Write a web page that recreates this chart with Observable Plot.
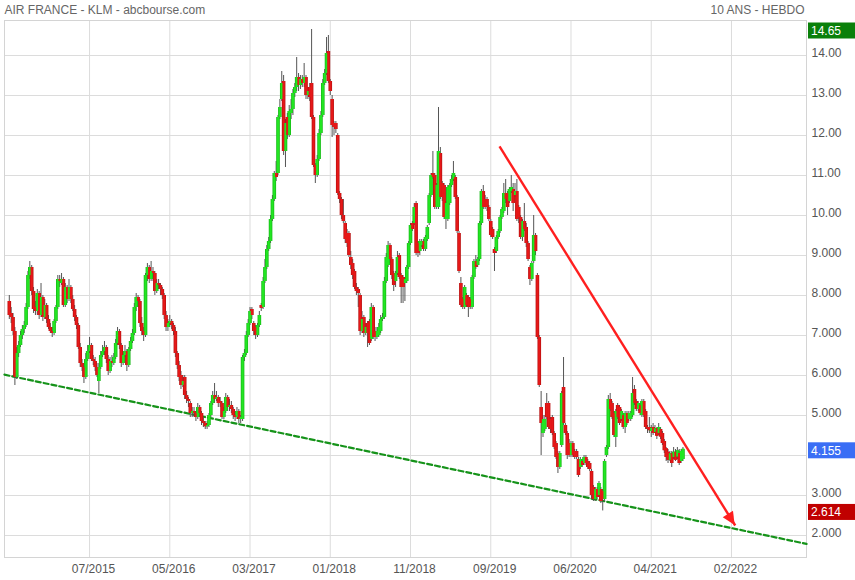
<!DOCTYPE html>
<html>
<head>
<meta charset="utf-8">
<script src="https://cdn.jsdelivr.net/npm/d3@7"></script>
<script src="https://cdn.jsdelivr.net/npm/@observablehq/plot@0.6"></script>
<style>
  html, body { margin: 0; padding: 0; background: #fff; }
  #chart svg { display: block; font-family: "Liberation Sans", Arial, sans-serif; }
</style>
</head>
<body>
<div id="chart"></div>
<script>
// Weekly candles (index 0 = first week shown)
const open = [
7.85,7.55,7.45,7.1,5.95,6.55,6.75,7.0,7.15,7.25,
7.7,8.5,8.7,8.1,7.7,7.6,8.05,7.5,7.95,7.45,
7.75,7.4,7.2,7.1,7.05,7.35,7.7,8.4,8.3,8.4,
7.75,8.2,7.9,8.2,7.9,7.65,7.45,7.25,6.7,6.3,
6.2,5.95,6.4,6.6,6.75,6.4,6.35,6.2,5.85,6.2,
6.5,6.6,6.7,6.4,6.1,6.35,6.3,6.45,6.8,7.1,
6.75,6.3,6.5,6.6,6.25,6.65,6.85,7.05,7.7,7.95,
7.85,7.3,7.1,7.0,8.5,8.7,8.4,8.6,8.55,8.1,
8.3,8.25,8.15,8.0,7.5,7.2,7.3,7.35,7.25,7.1,
6.55,6.25,6.0,5.75,5.95,5.5,5.4,5.3,5.05,5.1,
5.05,4.95,5.2,5.05,4.85,4.8,4.72,4.75,5.0,5.3,
5.5,5.4,5.45,5.35,5.3,4.95,5.1,5.45,5.2,5.25,
5.15,5.0,4.95,5.1,4.9,4.9,6.45,6.55,7.0,7.3,
7.65,7.3,7.2,7.0,7.25,7.75,7.7,8.35,8.7,9.15,
9.35,9.9,10.4,11.05,11.05,12.45,12.9,13.35,11.6,12.45,
12.0,12.55,12.65,13.05,13.2,13.45,13.25,13.4,13.3,13.45,
13.0,13.2,13.3,12.45,11.25,11.0,11.4,12.05,12.5,13.3,
13.55,14.1,13.35,12.9,12.3,12.3,12.0,10.55,10.4,10.0,
9.8,9.55,9.55,8.95,8.8,8.6,8.2,8.15,8.0,7.1,
7.45,7.05,7.3,7.35,6.9,7.7,7.1,6.95,7.0,7.1,
7.4,7.45,8.35,8.75,9.25,8.9,8.55,8.35,8.55,9.0,
8.5,8.45,8.3,8.35,8.7,9.3,9.8,9.8,10.3,9.3,
9.1,9.25,9.35,9.15,9.4,9.8,10.5,11.05,11.0,10.2,
10.2,11.55,10.8,10.75,9.9,9.9,10.3,10.75,10.9,10.95,
10.45,9.55,8.3,7.9,7.7,8.0,7.95,7.9,7.7,8.45,
8.85,8.75,8.9,9.8,10.6,10.4,10.4,10.2,9.85,9.65,
9.15,9.1,9.45,9.6,9.95,10.1,10.55,10.55,10.35,10.6,
10.65,10.5,10.6,10.2,9.95,9.45,9.85,9.7,9.3,8.7,
8.4,8.85,9.5,8.5,6.95,5.2,4.55,4.65,5.3,5.3,
4.9,4.95,4.55,4.3,4.05,3.7,4.25,5.7,4.75,4.55,
4.3,4.0,4.3,4.1,4.1,3.9,3.7,3.85,3.8,3.95,
3.85,3.8,3.6,3.2,2.9,3.15,3.0,3.15,3.1,2.9,
4.0,4.2,5.4,5.3,5.05,4.45,5.25,5.2,4.9,5.0,
4.7,5.05,4.9,4.9,5.0,5.65,5.35,5.15,5.25,5.0,
5.35,5.1,4.7,4.7,4.6,4.7,4.58,4.67,4.55,4.65,
4.55,4.35,4.17,4.08,3.88,4.04,3.95,4.08,3.96,4.05,3.85,3.9
];
const high = [
8.0,7.7,7.55,7.2,6.7,6.85,7.1,7.25,7.35,7.8,
8.6,8.85,8.75,8.2,7.85,8.15,8.1,8.3,8.0,7.9,
7.8,7.5,7.3,7.2,7.4,7.75,8.5,8.5,8.55,8.45,
8.3,8.25,8.4,8.25,8.0,7.75,7.5,7.3,6.8,6.4,
6.3,6.55,6.75,6.95,6.8,6.5,6.45,6.3,6.3,6.6,
6.75,6.85,6.75,6.5,6.45,6.5,6.55,6.9,7.2,7.15,
6.8,6.6,6.75,6.65,6.7,6.95,7.15,7.8,8.05,8.0,
7.9,7.45,7.2,8.55,8.8,8.75,8.85,8.7,8.6,8.4,
8.4,8.3,8.2,8.05,7.6,7.4,7.5,7.4,7.3,7.2,
6.6,6.35,6.1,6.0,6.0,5.6,5.45,5.35,5.2,5.2,
5.1,5.3,5.25,5.1,4.95,4.85,4.85,5.05,5.35,5.6,
5.8,5.6,5.5,5.45,5.35,5.2,5.55,5.5,5.4,5.35,
5.2,5.1,5.2,5.15,5.0,6.5,6.65,7.1,7.4,7.7,
7.7,7.35,7.25,7.3,7.6,7.8,8.45,8.9,9.25,9.45,
10.0,10.5,11.1,11.35,12.5,12.9,13.6,13.5,12.4,12.55,
12.75,12.9,13.15,13.3,13.95,13.55,13.5,13.5,13.8,13.5,
13.2,13.3,14.65,12.5,11.3,11.5,12.15,12.6,13.4,13.65,
14.45,14.5,13.4,13.0,12.35,12.35,12.05,10.6,10.45,10.4,
9.85,9.65,9.6,9.1,8.9,8.65,8.3,8.2,8.05,7.6,
7.5,7.3,7.35,7.4,7.8,7.75,7.2,7.2,7.3,7.5,
7.55,8.45,9.05,9.35,9.3,8.95,8.6,8.6,9.1,9.05,
8.55,8.5,8.45,8.75,9.35,9.8,9.85,10.3,10.35,9.35,
9.4,9.4,9.4,9.5,9.75,10.55,11.05,11.6,11.05,10.8,
12.7,11.7,10.85,10.8,10.35,10.75,10.8,11.0,11.35,11.0,
10.5,9.6,8.45,7.95,8.25,8.05,8.0,7.95,8.5,8.9,
9.0,8.95,9.85,10.65,10.75,10.5,10.45,10.25,9.9,9.7,
9.2,9.5,9.65,10.0,10.2,10.8,10.9,10.6,10.7,11.0,
10.8,10.8,10.9,10.25,10.0,9.9,10.3,9.8,9.35,8.75,
8.85,10.0,9.55,8.55,7.0,5.6,5.0,5.0,5.55,5.35,
4.95,5.0,4.6,4.35,4.1,4.1,5.6,6.45,4.8,4.6,
4.4,4.35,4.35,4.15,4.15,3.95,3.95,3.9,4.0,4.0,
3.9,3.85,3.65,3.25,3.2,3.2,3.35,3.2,3.15,3.9,
4.25,5.5,5.55,5.35,5.1,5.15,5.3,5.25,5.15,5.05,
5.1,5.1,5.1,5.1,5.95,5.75,5.4,5.35,5.3,5.4,
5.4,5.15,4.75,4.95,4.75,4.8,4.75,4.7,4.8,4.7,
4.6,4.4,4.2,4.15,4.1,4.1,4.2,4.15,4.2,4.15,4.15,4.2
];
const low = [
7.4,7.3,7.0,5.75,5.9,6.45,6.7,6.9,7.05,7.2,
7.65,8.4,8.0,7.55,7.5,7.5,7.4,7.45,7.35,7.4,
7.3,7.15,7.05,6.95,7.0,7.3,7.65,8.2,8.25,7.7,
7.7,7.8,7.85,7.8,7.6,7.35,7.15,6.65,6.2,6.1,
5.8,5.9,6.35,6.55,6.35,6.25,6.1,5.95,5.55,6.15,
6.45,6.5,6.3,6.0,6.05,6.2,6.25,6.4,6.75,6.65,
6.2,6.25,6.45,6.1,6.2,6.6,6.8,7.0,7.6,7.7,
7.2,7.0,6.85,6.95,8.35,8.3,8.35,8.35,8.0,8.05,
8.15,8.0,7.9,7.4,7.1,7.1,7.2,7.15,7.0,6.45,
6.15,5.85,5.65,5.7,5.4,5.3,5.2,4.95,4.95,4.95,
4.85,4.9,4.95,4.75,4.7,4.65,4.65,4.7,4.95,5.25,
5.3,5.35,5.2,5.2,4.9,4.9,5.05,5.1,5.1,5.05,
4.9,4.85,4.9,4.8,4.8,4.85,6.35,6.5,6.95,7.25,
7.4,7.0,6.9,6.95,7.2,7.6,7.65,8.3,8.65,9.1,
9.3,9.85,10.35,10.85,11.0,12.4,12.85,11.5,11.2,11.9,
11.95,12.4,12.5,12.95,13.1,13.1,13.15,13.2,13.2,12.9,
12.9,12.85,12.4,11.2,10.8,10.95,11.35,12.0,12.45,13.25,
13.5,13.3,13.0,11.95,12.0,12.05,10.5,10.3,9.9,9.8,
9.3,9.2,8.95,8.65,8.4,8.15,8.0,7.7,7.0,7.05,
6.95,7.0,6.7,6.75,6.85,6.9,6.85,6.9,6.95,7.05,
7.35,7.4,8.3,8.7,8.8,8.4,8.1,8.2,8.5,8.4,
7.8,7.8,7.85,8.3,8.65,9.25,9.6,9.75,9.0,8.95,
9.0,9.2,9.1,9.1,9.35,9.75,10.45,10.9,10.15,10.15,
10.15,10.4,10.35,9.9,9.65,9.85,10.25,10.7,10.85,10.4,
9.55,8.55,7.7,7.65,7.65,7.7,7.45,7.65,7.65,8.4,
8.65,8.7,8.85,9.75,10.15,10.15,10.1,9.85,9.45,9.4,
8.6,9.05,9.4,9.55,9.9,10.05,10.3,10.0,10.3,10.55,
10.1,10.45,9.85,9.8,9.4,9.35,9.6,9.2,8.85,8.25,
8.35,8.8,9.0,6.9,5.7,4.0,4.45,4.6,4.9,4.65,
4.55,4.5,4.15,3.9,3.55,3.65,4.2,4.75,4.5,3.9,
3.95,3.95,3.95,3.9,3.9,3.45,3.65,3.7,3.75,3.75,
3.65,3.6,2.9,2.85,2.85,2.9,2.95,2.8,2.614,2.85,
3.95,4.15,5.1,4.9,4.45,4.2,4.9,4.75,4.85,4.65,
4.55,4.75,4.85,4.85,4.95,5.25,5.1,5.1,5.0,4.95,
4.95,4.65,4.55,4.55,4.45,4.5,4.55,4.4,4.5,4.4,
4.25,4.05,3.85,3.8,3.85,3.7,3.9,3.85,3.9,3.75,3.8,3.85
];
const close = [
7.5,7.45,7.1,5.95,6.55,6.75,7.0,7.15,7.25,7.7,
8.5,8.7,8.1,7.65,7.6,8.05,7.5,7.95,7.45,7.75,
7.4,7.2,7.1,7.05,7.35,7.7,8.4,8.35,8.4,7.75,
8.2,7.9,8.2,7.9,7.65,7.45,7.25,6.7,6.3,6.2,
5.95,6.4,6.6,6.75,6.4,6.35,6.2,6.0,6.2,6.5,
6.6,6.7,6.4,6.1,6.35,6.3,6.45,6.8,7.1,6.75,
6.3,6.5,6.6,6.25,6.65,6.85,7.05,7.7,7.95,7.85,
7.3,7.1,7.0,8.5,8.7,8.4,8.6,8.55,8.1,8.3,
8.25,8.15,8.0,7.5,7.2,7.3,7.35,7.25,7.1,6.55,
6.25,5.95,5.75,5.85,5.5,5.4,5.35,5.05,5.1,5.05,
4.95,5.2,5.05,4.85,4.8,4.72,4.75,5.0,5.3,5.5,
5.4,5.45,5.3,5.3,4.95,5.1,5.45,5.2,5.25,5.15,
5.0,4.95,5.1,4.9,4.95,6.45,6.55,7.0,7.3,7.6,
7.5,7.1,7.0,7.25,7.5,7.68,8.35,8.7,9.15,9.35,
9.9,10.4,11.05,10.95,12.45,12.7,13.3,11.6,12.3,12.0,
12.6,12.65,13.05,13.2,13.45,13.25,13.4,13.3,13.45,13.0,
13.1,12.95,12.45,11.25,11.0,11.4,12.05,12.5,13.3,13.55,
14.05,13.35,13.1,12.25,12.2,12.15,10.55,10.4,10.0,9.85,
9.4,9.3,9.0,8.75,8.5,8.2,8.1,8.05,7.1,7.4,
7.05,7.2,7.05,6.8,7.7,6.95,6.95,7.1,7.2,7.4,
7.45,8.35,8.95,9.25,8.9,8.5,8.25,8.55,8.95,8.45,
8.2,8.2,8.4,8.7,9.3,9.75,9.65,10.2,9.05,9.05,
9.35,9.35,9.15,9.45,9.7,10.5,11.0,10.95,10.2,10.75,
11.6,10.45,10.45,9.95,10.3,10.7,10.75,10.9,11.05,10.45,
9.6,8.6,7.75,7.7,8.2,7.75,7.7,7.72,8.45,8.85,
8.7,8.9,9.8,10.6,10.2,10.2,10.2,9.9,9.5,9.45,
9.05,9.45,9.6,9.95,10.15,10.55,10.4,10.2,10.65,10.7,
10.3,10.6,9.9,9.95,9.45,9.85,9.65,9.3,8.9,8.4,
8.8,9.5,9.1,6.95,5.75,4.8,4.9,4.9,4.95,4.7,
4.65,4.55,4.2,3.95,3.7,4.05,5.55,4.8,4.55,4.0,
4.0,4.3,4.0,3.95,3.95,3.5,3.9,3.75,3.95,3.8,
3.7,3.65,3.0,2.9,3.15,2.95,3.3,2.85,2.9,3.85,
4.2,5.4,5.15,4.95,4.5,5.1,4.95,4.8,5.1,4.7,
5.05,4.8,5.05,5.05,5.55,5.3,5.15,5.3,5.05,5.35,
5.0,4.7,4.65,4.62,4.68,4.55,4.67,4.48,4.7,4.46,
4.3,4.12,3.95,3.88,4.04,3.8,4.08,3.88,4.12,3.8,4.1,4.155
];

// X axis: week index of each labelled gridline, and its label
const tickWeeks  = [43, 86, 129, 172, 215, 258, 301, 344, 387];
const tickLabels = ["07/2015","05/2016","03/2017","01/2018","11/2018","09/2019","06/2020","04/2021","02/2022"];
// Y axis price ticks
const priceTicks = [2,3,4,5,6,7,8,9,10,11,12,13,14];

// Drawn trend lines (week index, price)
const supportWeeks  = [-2.6, 427.2];
const supportPrices = [6.02, 1.79];
const resistWeeks   = [262.7, 389];
const resistPrices  = [11.73, 2.25];

const titleLeft  = "AIR FRANCE - KLM - abcbourse.com";
const titleRight = "10 ANS - HEBDO";

const n = Math.min(open.length, high.length, low.length, close.length);
const candles = d3.range(n).map(i => ({
  i, open: open[i], close: close[i],
  high: Math.max(high[i], open[i], close[i]),
  low: Math.min(low[i], open[i], close[i]),
  up: close[i] >= open[i]
}));
const support = supportWeeks.map((w, k) => ({w, p: supportPrices[k]}));
const resist = {x1: resistWeeks[0], y1: resistPrices[0], x2: resistWeeks[1], y2: resistPrices[1]};

const W = 855, H = 580;
const mL = 4, mR = 49, mT = 20, mB = 23;
const pxPerWeek = 1.8661;
const xDomain = [-(8.8 - mL) / pxPerWeek, (W - mR - 8.8) / pxPerWeek];
const yDomain = [9 - (H - mB - 255) / 40, 9 + (255 - mT) / 40];

const fmt = d => d >= 10 ? d.toFixed(2) : d.toFixed(3);
const grey = "#666";

// Badge values come from the data: highest high, last close, lowest low
const badges = [
  {v: d3.max(candles, d => d.high), bg: "#0a800a"},
  {v: candles[n - 1].close, bg: "#3a6ef5"},
  {v: d3.min(candles, d => d.low), bg: "#c00000"}
];
// an axis label hidden under a badge is not shown (as in the original)
const pxPerUnit = 40;
const labelTicks = priceTicks.filter(t => !badges.some(b => Math.abs(b.v - t) * pxPerUnit < 12));

const chart = Plot.plot({
  width: W, height: H,
  marginLeft: mL, marginRight: mR, marginTop: mT, marginBottom: mB,
  style: {fontFamily: "'Liberation Sans', Arial, sans-serif", fontSize: "12px", color: grey, background: "#fff"},
  x: {type: "linear", domain: xDomain},
  y: {type: "linear", domain: yDomain},
  marks: [
    Plot.gridY(priceTicks, {stroke: "#dcdcdc", strokeOpacity: 1}),
    Plot.gridX(tickWeeks, {stroke: "#dcdcdc", strokeOpacity: 1}),
    Plot.frame({stroke: "#d4d4d4"}),
    Plot.axisY(labelTicks, {anchor: "right", tickSize: 0, tickPadding: 5, tickFormat: fmt, label: null, dy: -2, fill: "#555", fontSize: 12}),
    Plot.axisX(tickWeeks, {anchor: "bottom", tickSize: 0, tickPadding: 7, tickFormat: (d, k) => tickLabels[k], label: null, dx: 4, fill: "#555", fontSize: 12}),
    Plot.line(support, {x: "w", y: "p", stroke: "#16931a", strokeWidth: 2.2, strokeDasharray: "5,3"}),
    Plot.ruleX(candles, {x: "i", y1: "low", y2: "high", stroke: "#555", strokeWidth: 1}),
    Plot.ruleX(candles, {x: "i", y1: "open", y2: "close", stroke: d => d.up ? "#17b817" : "#b81212", strokeWidth: 3.6, strokeLinecap: "butt"}),
    Plot.ruleX(candles, {x: "i", y1: "open", y2: "close", stroke: d => d.up ? "#22e622" : "#e61818", strokeWidth: 2.2, strokeLinecap: "butt"}),
    Plot.link([resist], {x1: "x1", y1: "y1", x2: "x2", y2: "y2", stroke: "#ff1f1f", strokeWidth: 2.4}),
    Plot.text([titleLeft], {frameAnchor: "top-left", dx: 0, dy: -10, textAnchor: "start", lineAnchor: "middle", fill: grey, fontSize: 12}),
    Plot.text([titleRight], {frameAnchor: "top-right", dx: -2, dy: -10, textAnchor: "end", lineAnchor: "middle", fill: grey, fontSize: 12})
  ]
});

document.getElementById("chart").appendChild(chart);

const xs = chart.scale("x"), ys = chart.scale("y");
const svg = d3.select(chart);

// filled arrow head at the end of the red trend line
{
  const tx = xs.apply(resist.x2), ty = ys.apply(resist.y2);
  const sx = xs.apply(resist.x1), sy = ys.apply(resist.y1);
  const L = Math.hypot(tx - sx, ty - sy), ux = (tx - sx) / L, uy = (ty - sy) / L;
  const len = 13, half = 6;
  const bx = tx - ux * len, by = ty - uy * len;
  const pts = [[tx, ty], [bx - uy * half, by + ux * half], [bx + uy * half, by - ux * half]];
  svg.append("polygon").attr("points", pts.map(p => p.join(",")).join(" ")).attr("fill", "#ff1f1f");
}

const g = svg.append("g").attr("text-anchor", "start");
badges.forEach(b => {
  const cy = ys.apply(b.v) + 1.5;
  g.append("rect").attr("x", W - mR + 2).attr("y", cy - 8).attr("width", 47).attr("height", 16).attr("fill", b.bg);
  g.append("text").attr("x", W - mR + 5).attr("y", cy).attr("dy", "0.35em").attr("text-anchor", "start")
    .attr("fill", "#fff").attr("font-size", 12).attr("font-family", "'Liberation Sans', Arial, sans-serif")
    .text(fmt(b.v));
});
</script>
</body>
</html>
